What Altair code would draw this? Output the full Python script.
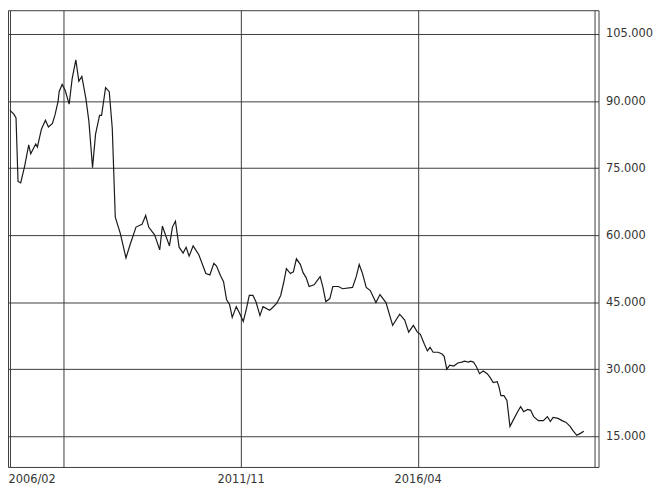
import altair as alt
import pandas as pd

# months since 2006/02 and price values
months = [0, 1.2, 1.8, 2.4, 3.2, 4.4, 5.6, 6.2, 7.7, 8.2, 9.4, 10.6, 11.5, 12.7, 13.5, 14.4, 14.7,
          15.6, 16.5, 17.7, 18.6, 19.7, 20.6, 21.5, 22.7, 23.6, 24.7, 25.6, 26.8, 27.4, 28.6, 29.7,
          30.6, 31.5, 33.0, 34.7, 35.9, 37.7, 39.5, 40.6, 41.5, 43.3, 44.8, 45.6, 47.7, 48.6, 49.5,
          50.6, 51.8, 52.7, 53.6, 54.8, 56.5, 58.6, 59.8, 61.0, 61.8, 63.0, 63.9, 64.8, 65.7, 66.5,
          67.7, 68.6, 69.8, 70.7, 71.6, 72.7, 73.6, 74.8, 75.7, 77.7, 78.6, 79.8, 81.0, 81.9, 82.7,
          83.9, 84.8, 85.7, 86.9, 87.7, 88.6, 89.5, 91.0, 92.8, 93.6, 94.5, 95.7, 96.6, 98.3, 99.5,
          102.5, 103.6, 104.5, 105.4, 106.6, 107.8, 109.5, 110.7, 112.5, 114.5, 116.6, 118.1, 119.3,
          120.7, 121.9, 122.8, 124.0, 124.9, 125.7, 126.6, 128.1, 129.3, 129.9, 130.7, 131.6, 132.8,
          134.0, 135.2, 136.0, 137.2, 137.8, 138.7, 139.6, 140.5, 141.6, 142.8, 143.7, 144.6, 145.8,
          146.3, 146.9, 147.8, 148.7, 149.6, 150.5, 151.9, 152.8, 153.7, 154.9, 155.8, 156.7, 158.1,
          159.6, 160.8, 161.7, 162.5, 164.0, 165.2, 166.4, 167.6, 168.4, 169.6, 170.8, 171.7]
prices = [87.9, 87.0, 86.2, 72.0, 71.7, 75.5, 80.2, 78.2, 80.4, 79.7, 83.7, 85.7, 84.2, 85.0, 87.0, 90.0, 92.1,
          93.7, 92.4, 89.3, 95.0, 99.2, 94.4, 95.5, 90.6, 85.5, 75.1, 82.6, 86.8, 86.8, 93.0, 92.1,
          83.9, 64.0, 60.4, 54.9, 57.8, 61.8, 62.4, 64.4, 61.8, 60.0, 56.7, 62.0, 57.6, 61.8, 63.1,
          57.3, 56.0, 57.3, 55.3, 57.6, 55.6, 51.4, 51.1, 53.7, 53.1, 50.9, 49.6, 45.6, 44.5, 41.6,
          44.0, 42.7, 40.7, 43.4, 46.5, 46.5, 45.1, 42.0, 44.0, 43.2, 43.8, 44.7, 46.5, 49.4, 52.5,
          51.4, 51.8, 54.7, 53.4, 51.6, 50.5, 48.5, 48.9, 50.7, 48.5, 45.1, 45.8, 48.5, 48.5, 48.0,
          48.3, 50.7, 53.4, 51.6, 48.3, 47.6, 44.9, 46.7, 44.9, 39.8, 42.3, 41.0, 38.3,
          39.8, 38.3, 37.8, 35.6, 34.1, 34.9, 33.8, 33.8, 33.4, 32.9, 30.0, 30.9, 30.7,
          31.4, 31.6, 31.8, 31.6, 31.8, 31.6, 30.5, 29.0, 29.6, 29.0, 28.1, 27.0, 27.2,
          26.1, 24.1, 24.1, 23.0, 17.2, 18.5, 20.5, 21.6, 20.5, 21.0, 20.8, 19.4, 18.5,
          18.5, 19.4, 18.3, 19.2, 19.0, 18.5, 18.1, 17.2, 16.3, 15.2, 15.7, 16.1]

grid_months = [0, 16, 69, 122, 175]
label_months = [0, 69, 122]
label_texts = ["2006/02", "2011/11", "2016/04"]
y_ticks = [15, 30, 45, 60, 75, 90, 105]

df = pd.DataFrame({"t": months, "v": prices})

label_expr = "".join(
    f"datum.value == {m} ? '{s}' : " for m, s in zip(label_months, label_texts)
) + "''"

FONT = "DejaVu Sans"
GRID = "#3c3c3c"

chart = alt.Chart(df).mark_line(color="#1a1a1a", strokeWidth=1.2, clip=True).encode(
    x=alt.X(
        "t:Q",
        scale=alt.Scale(domain=[-0.6, 176.1], nice=False, zero=False),
        axis=alt.Axis(
            values=grid_months, labelExpr=label_expr, title=None, grid=True,
            gridColor=GRID, gridOpacity=1, gridWidth=1, ticks=False, domain=False,
            labelFlush=5, labelFlushOffset=2, labelPadding=7, labelOverlap=False,
            labelFont=FONT, labelFontSize=11.5, labelColor="#333333",
        ),
    ),
    y=alt.Y(
        "v:Q",
        scale=alt.Scale(domain=[8.13, 110.32], nice=False, zero=False),
        axis=alt.Axis(
            orient="right", values=y_ticks, format=".3f", title=None, grid=True,
            gridColor=GRID, gridOpacity=1, gridWidth=1, ticks=False, domain=False,
            labelPadding=7, labelOverlap=False,
            labelFont=FONT, labelFontSize=11.5, labelColor="#333333",
        ),
    ),
).properties(width=596, height=461, padding=0).configure_view(
    stroke=GRID, strokeWidth=1
)

chart.save("out.html", embed_options={"renderer": "svg", "actions": False})
